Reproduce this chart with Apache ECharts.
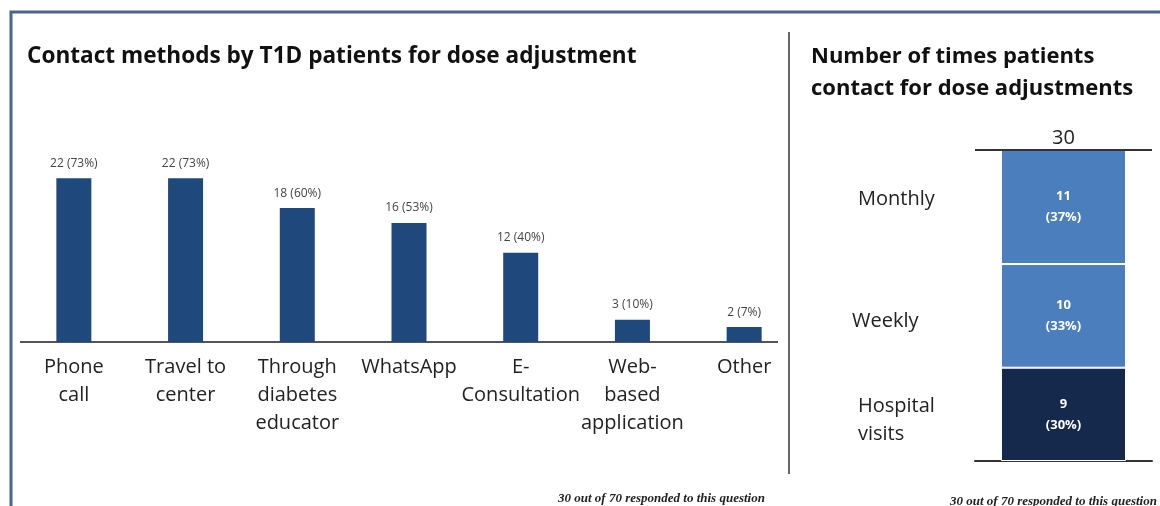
<!DOCTYPE html>
<html>
<head>
<meta charset="utf-8">
<script src="https://cdn.jsdelivr.net/npm/echarts@6/dist/echarts.min.js"></script>
<style>
  html, body { margin: 0; padding: 0; background: #fff; }
  #chart { width: 1160px; height: 506px; }
</style>
</head>
<body>
<div id="chart"></div>
<script>
// Contact methods (left panel)
const methodNames = ['Phone\ncall', 'Travel to\ncenter', 'Through\ndiabetes\neducator', 'WhatsApp', 'E-\nConsultation', 'Web-\nbased\napplication', 'Other'];
const methodCounts = [22, 22, 18, 16, 12, 3, 2];
const methodPercents = [73, 73, 60, 53, 40, 10, 7];

// Contact frequency (right panel), stacked bottom to top
const freqNames = ['Hospital\nvisits', 'Weekly', 'Monthly'];
const freqCounts = [9, 10, 11];
const freqPercents = [30, 33, 37];
const freqColors = ['#14294b', '#4a7ebd', '#4a7ebd'];
// small nudges for the frequency names
const nameShiftX = [0, -6, 0];
const nameShiftY = [6, 5, -8];

const respondents = 30;
const surveyed = 70;
const footnote = respondents + ' out of ' + surveyed + ' responded to this question';

const totalFreq = freqCounts.reduce((a, b) => a + b, 0);

const font = '"Open Sans", Lato, sans-serif';
const noteFont = '"Liberation Serif", serif';

const freqSeries = [];
freqCounts.forEach((v, i) => {
  freqSeries.push({
    type: 'bar',
    xAxisIndex: 1,
    yAxisIndex: 1,
    stack: 'freq',
    barWidth: 125,
    data: [v],
    itemStyle: { color: freqColors[i], borderColor: '#ffffff', borderWidth: 1 },
    label: {
      show: true,
      position: 'inside',
      formatter: v + '\n(' + freqPercents[i] + '%)',
      color: '#ffffff',
      fontFamily: font,
      fontWeight: 'bold',
      fontSize: 13,
      lineHeight: 21
    },
    markLine: i === freqCounts.length - 1 ? {
      silent: true,
      symbol: 'none',
      lineStyle: { color: '#333333', width: 2, type: 'solid' },
      label: {
        show: true,
        position: 'insideMiddleTop',
        formatter: String(totalFreq),
        color: '#222222',
        fontFamily: font,
        fontSize: 20,
        distance: 2
      },
      data: [{ yAxis: totalFreq }]
    } : undefined
  });
});
// Category names beside the stacked bar
freqCounts.forEach((v, i) => {
  freqSeries.push({
    type: 'bar',
    xAxisIndex: 1,
    yAxisIndex: 1,
    stack: 'names',
    barGap: '-100%',
    barWidth: 125,
    data: [v],
    silent: true,
    itemStyle: { color: 'rgba(0,0,0,0)' },
    label: {
      show: true,
      position: [-143, '50%'],
      offset: [nameShiftX[i], nameShiftY[i]],
      align: 'left',
      verticalAlign: 'middle',
      formatter: freqNames[i],
      color: '#222222',
      fontFamily: font,
      fontSize: 20,
      lineHeight: 28
    }
  });
});

const chart = echarts.init(document.getElementById('chart'), null, { renderer: 'canvas' });

chart.setOption({
  backgroundColor: '#ffffff',
  animation: false,
  title: [
    {
      text: 'Contact methods by T1D patients for dose adjustment',
      left: 22, top: 40,
      textStyle: { fontFamily: font, fontWeight: 'bold', fontSize: 22.6, color: '#111111' }
    },
    {
      text: 'Number of times patients\ncontact for dose adjustments',
      left: 806, top: 36,
      textStyle: { fontFamily: font, fontWeight: 'bold', fontSize: 22, color: '#111111', lineHeight: 32 }
    }
  ],
  grid: [
    { left: 18, right: 360, top: 156, bottom: 164 },
    { left: 975, right: 8, top: 150, bottom: 45 }
  ],
  xAxis: [
    {
      gridIndex: 0,
      type: 'category',
      data: methodNames,
      axisLine: { show: false },
      axisTick: { show: false },
      axisLabel: {
        interval: 0,
        margin: 11,
        color: '#222222',
        fontFamily: font,
        fontSize: 20,
        lineHeight: 28
      }
    },
    {
      gridIndex: 1,
      type: 'category',
      data: ['all'],
      axisLine: { show: true, lineStyle: { color: '#333333', width: 2 } },
      axisTick: { show: false },
      axisLabel: { show: false }
    }
  ],
  yAxis: [
    { gridIndex: 0, type: 'value', min: 0, max: 25, show: false },
    { gridIndex: 1, type: 'value', min: 0, max: totalFreq, show: false }
  ],
  series: [
    {
      type: 'bar',
      xAxisIndex: 0,
      yAxisIndex: 0,
      barWidth: 35,
      data: methodCounts,
      itemStyle: { color: '#1f497d' },
      label: {
        show: true,
        position: 'top',
        distance: 9,
        formatter: p => p.value + ' (' + methodPercents[p.dataIndex] + '%)',
        color: '#444444',
        fontFamily: font,
        fontSize: 12
      }
    },
    ...freqSeries
  ],
  graphic: [
    // panel frame
    {
      type: 'polyline',
      shape: { points: [[11, 510], [11, 12], [1165, 12]] },
      style: { stroke: '#4a6590', lineWidth: 3, fill: null }
    },
    // panel divider
    {
      type: 'line',
      shape: { x1: 789, y1: 32, x2: 789, y2: 474 },
      style: { stroke: '#333333', lineWidth: 1.5 }
    },
    // baseline of the left bar chart
    {
      type: 'line',
      shape: { x1: 20, y1: 342, x2: 778, y2: 342 },
      style: { stroke: '#555555', lineWidth: 2 }
    },
    {
      type: 'text',
      left: 558, top: 492,
      style: { text: footnote, fontFamily: noteFont, fontStyle: 'italic', fontWeight: 'bold', fontSize: 13, fill: '#222222' }
    },
    {
      type: 'text',
      left: 950, top: 495,
      style: { text: footnote, fontFamily: noteFont, fontStyle: 'italic', fontWeight: 'bold', fontSize: 13, fill: '#222222' }
    }
  ]
});
</script>
</body>
</html>
